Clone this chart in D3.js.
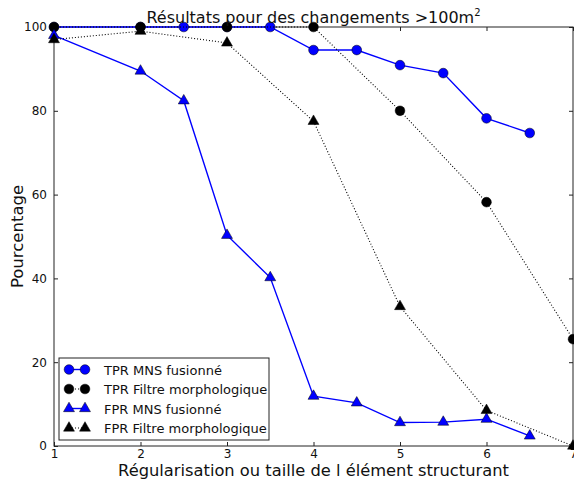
<!DOCTYPE html>
<html>
<head>
<meta charset="utf-8">
<script src="https://cdn.jsdelivr.net/npm/d3@7"></script>
<style>
  html, body { margin: 0; padding: 0; background: #fff; }
  svg { display: block; font-family: "DejaVu Sans", sans-serif; }
</style>
</head>
<body>
<svg id="chart" width="574" height="482"></svg>
<script>
// Detection rates vs. regularisation / structuring element size
const xTpr = [1, 2, 2.5, 3, 3.5, 4, 4.5, 5, 5.5, 6, 6.5];
const tprMns = [100, 100, 100, 100, 100, 94.5, 94.5, 90.9, 89.0, 78.2, 74.7];

const xFiltre = [1, 2, 3, 4, 5, 6, 7];
const tprFiltre = [100, 100, 100, 100, 80.0, 58.2, 25.5];

const xFpr = [1, 2, 2.5, 3, 3.5, 4, 4.5, 5, 5.5, 6, 6.5];
const fprMns = [98.0, 89.5, 82.4, 50.3, 40.2, 11.9, 10.3, 5.6, 5.7, 6.4, 2.4];

const fprFiltre = [97.0, 99.0, 96.2, 77.5, 33.3, 8.5, 0];

const xTicks = [1, 2, 3, 4, 5, 6, 7];
const yTicks = [0, 20, 40, 60, 80, 100];

const series = [
  { name: "TPR MNS fusionné", xs: xTpr, ys: tprMns, color: "#0000ff", marker: "circle", dash: null },
  { name: "TPR Filtre morphologique", xs: xFiltre, ys: tprFiltre, color: "#000000", marker: "circle", dash: "1,2" },
  { name: "FPR MNS fusionné", xs: xFpr, ys: fprMns, color: "#0000ff", marker: "triangle", dash: null },
  { name: "FPR Filtre morphologique", xs: xFiltre, ys: fprFiltre, color: "#000000", marker: "triangle", dash: "1,2" }
];

const svg = d3.select("#chart");
const L = 54, R = 573, T = 27, B = 446;

const x = d3.scaleLinear().domain([1, 7]).range([L, R]);
const y = d3.scaleLinear().domain([0, 100]).range([B, T]);

// Plot frame
svg.append("rect")
  .attr("x", L).attr("y", T).attr("width", R - L).attr("height", B - T)
  .attr("fill", "#fff").attr("stroke", "#222").attr("stroke-width", 1);

// Axes with inward ticks
const tickLen = 4;
const axB = svg.append("g").attr("transform", `translate(0,${B})`)
  .call(d3.axisBottom(x).tickValues(xTicks).tickSizeInner(-tickLen).tickSizeOuter(0).tickPadding(3).tickFormat(d3.format("d")));
const axT = svg.append("g").attr("transform", `translate(0,${T})`)
  .call(d3.axisTop(x).tickValues(xTicks).tickSizeInner(-tickLen).tickSizeOuter(0).tickFormat(""));
const axL = svg.append("g").attr("transform", `translate(${L},0)`)
  .call(d3.axisLeft(y).tickValues(yTicks).tickSizeInner(-tickLen).tickSizeOuter(0).tickPadding(7).tickFormat(d3.format("d")));
const axR = svg.append("g").attr("transform", `translate(${R},0)`)
  .call(d3.axisRight(y).tickValues(yTicks).tickSizeInner(-tickLen).tickSizeOuter(0).tickFormat(""));

[axB, axT, axL, axR].forEach(a => {
  a.attr("font-family", "DejaVu Sans").attr("font-size", 12);
  a.select(".domain").remove();
  a.selectAll("line").attr("stroke", "#222");
  a.selectAll("text").attr("fill", "#111");
});

// Lines and markers
const line = d3.line().x(d => x(d[0])).y(d => y(d[1]));
const circleSym = d3.symbol().type(d3.symbolCircle).size(74);
const triSym = d3.symbol().type(d3.symbolTriangle).size(52);

const plot = svg.append("g");
series.forEach(s => {
  const pts = s.xs.map((v, i) => [v, s.ys[i]]);
  plot.append("path")
    .datum(pts)
    .attr("d", line)
    .attr("fill", "none")
    .attr("stroke", s.color)
    .attr("stroke-width", s.dash ? 1.1 : 1.4)
    .attr("stroke-dasharray", s.dash);
  plot.selectAll(null)
    .data(pts)
    .join("path")
    .attr("transform", d => `translate(${x(d[0])},${y(d[1])})`)
    .attr("d", s.marker === "circle" ? circleSym : triSym)
    .attr("fill", s.color)
    .attr("stroke", "#000")
    .attr("stroke-width", 0.5);
});

// Title
const title = svg.append("text")
  .attr("x", (L + R) / 2).attr("y", 23)
  .attr("text-anchor", "middle")
  .attr("font-size", 16).attr("fill", "#111");
title.append("tspan").text("Résultats pour des changements >100m");
title.append("tspan").attr("font-size", 10).attr("dy", -7).text("2");

// Axis labels
svg.append("text")
  .attr("x", (L + R) / 2).attr("y", 476)
  .attr("text-anchor", "middle")
  .attr("font-size", 16.3).attr("fill", "#111")
  .text("Régularisation ou taille de l élément structurant");

svg.append("text")
  .attr("transform", `translate(23,${(T + B) / 2}) rotate(-90)`)
  .attr("text-anchor", "middle")
  .attr("font-size", 16.5).attr("fill", "#111")
  .text("Pourcentage");

// Legend
const lg = svg.append("g").attr("transform", "translate(59,358)");
lg.append("rect")
  .attr("x", 0).attr("y", 0).attr("width", 210).attr("height", 82)
  .attr("fill", "#fff").attr("stroke", "#222").attr("stroke-width", 1);
series.forEach((s, i) => {
  const cy = 11.5 + i * 19.5;
  const row = lg.append("g").attr("transform", `translate(0,${cy})`);
  row.append("line")
    .attr("x1", 10).attr("x2", 26).attr("y1", 0).attr("y2", 0)
    .attr("stroke", s.color)
    .attr("stroke-width", s.dash ? 1.1 : 1.4)
    .attr("stroke-dasharray", s.dash);
  [10, 26].forEach(mx => {
    row.append("path")
      .attr("transform", `translate(${mx},0)`)
      .attr("d", s.marker === "circle" ? circleSym : triSym)
      .attr("fill", s.color)
      .attr("stroke", "#000")
      .attr("stroke-width", 0.5);
  });
  row.append("text")
    .attr("x", 45).attr("y", 5)
    .attr("font-size", 13).attr("fill", "#111")
    .text(s.name);
});
</script>
</body>
</html>
